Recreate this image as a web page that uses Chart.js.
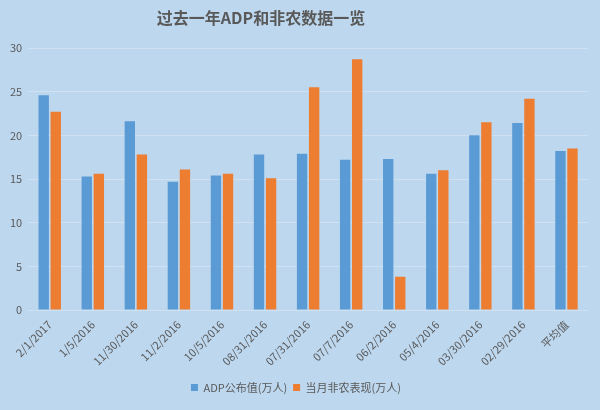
<!DOCTYPE html>
<html lang="zh">
<head>
    <meta charset="UTF-8">
    <title>过去一年ADP和非农数据一览</title>
    <script src="https://cdn.jsdelivr.net/npm/chart.js"></script>
    <style>
        body { margin: 0; background: #bdd7ee; }
        #chart { display: block; }
    </style>
</head>
<body>
    <canvas id="chart" width="600" height="410"></canvas>

    <script>
        const chartTitle = '过去一年ADP和非农数据一览';
        const dates = ['2/1/2017', '1/5/2016', '11/30/2016', '11/2/2016', '10/5/2016', '08/31/2016',
            '07/31/2016', '07/7/2016', '06/2/2016', '05/4/2016', '03/30/2016', '02/29/2016', '平均值'];
        const adpValues = [24.6, 15.3, 21.6, 14.7, 15.4, 17.8, 17.9, 17.2, 17.3, 15.6, 20.0, 21.4, 18.2];
        const nfpValues = [22.7, 15.6, 17.8, 16.1, 15.6, 15.1, 25.5, 28.7, 3.8, 16.0, 21.5, 24.2, 18.5];
        const yTicks = [0, 5, 10, 15, 20, 25, 30];

        const fontFamily = '"Noto Sans CJK SC", "Liberation Sans", sans-serif';

        // light blue background + title (title sits a bit left of centre in the original)
        const bgPlugin = {
            id: 'bg',
            beforeDraw(chart) {
                const ctx = chart.ctx;
                ctx.save();
                ctx.fillStyle = '#bdd7ee';
                ctx.fillRect(0, 0, chart.width, chart.height);
                ctx.restore();
            },
            afterDraw(chart) {
                const ctx = chart.ctx;
                ctx.save();
                ctx.fillStyle = '#595959';
                ctx.font = 'bold 16px ' + fontFamily;
                ctx.textAlign = 'center';
                ctx.textBaseline = 'middle';
                ctx.fillText(chartTitle, 261, 18);
                ctx.restore();
            }
        };

        new Chart(document.getElementById('chart').getContext('2d'), {
            type: 'bar',
            data: {
                labels: dates,
                datasets: [
                    {
                        label: 'ADP公布值(万人)',
                        data: adpValues,
                        backgroundColor: '#5b9bd5',
                        categoryPercentage: 0.56,
                        barPercentage: 0.86
                    },
                    {
                        label: '当月非农表现(万人)',
                        data: nfpValues,
                        backgroundColor: '#ed7d31',
                        categoryPercentage: 0.56,
                        barPercentage: 0.86
                    }
                ]
            },
            options: {
                responsive: false,
                animation: false,
                layout: { padding: { left: 4, right: 12, top: 48, bottom: 7 } },
                scales: {
                    x: {
                        grid: { display: false, drawTicks: false },
                        border: { display: false },
                        ticks: {
                            color: '#595959',
                            font: { family: fontFamily, size: 11 },
                            minRotation: 45,
                            maxRotation: 45,
                            autoSkip: false,
                            padding: 8
                        }
                    },
                    y: {
                        min: 0,
                        max: 30,
                        afterBuildTicks(axis) {
                            axis.ticks = yTicks.map(v => ({ value: v }));
                        },
                        grid: { color: '#d0e1f1', drawTicks: false },
                        border: { display: false },
                        ticks: {
                            color: '#595959',
                            font: { family: fontFamily, size: 11 },
                            padding: 6
                        }
                    }
                },
                plugins: {
                    title: { display: false },
                    legend: {
                        position: 'bottom',
                        labels: {
                            color: '#595959',
                            font: { family: fontFamily, size: 11 },
                            boxWidth: 7,
                            boxHeight: 7,
                            padding: 6
                        }
                    },
                    tooltip: { enabled: false }
                }
            },
            plugins: [bgPlugin]
        });
    </script>
</body>
</html>
